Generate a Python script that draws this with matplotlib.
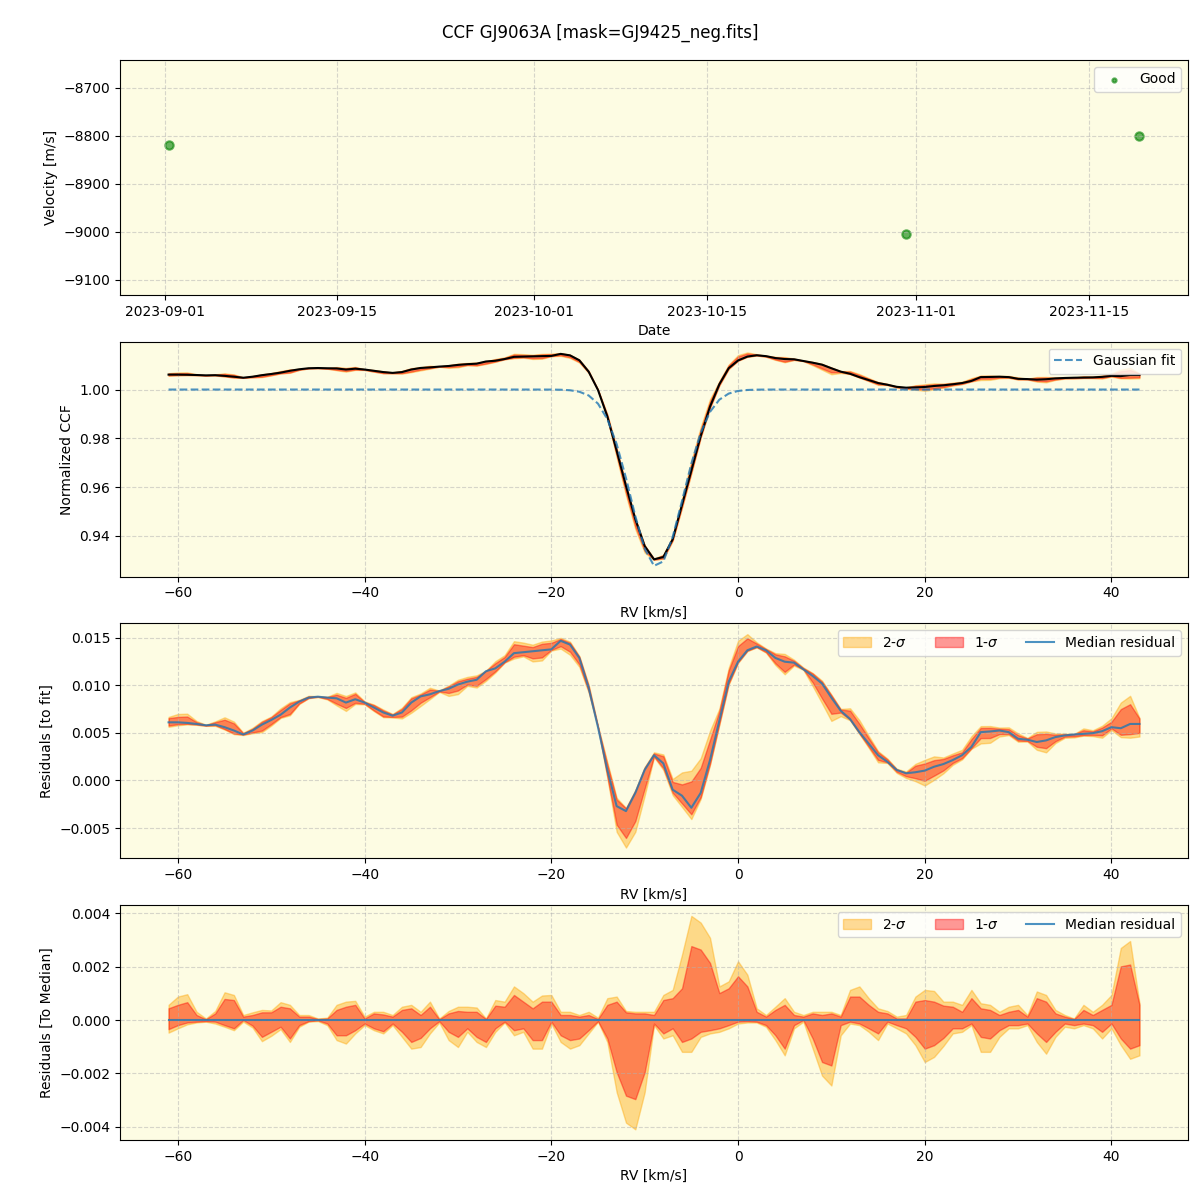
import numpy as np
import pandas as pd
import matplotlib
matplotlib.use("Agg")
import matplotlib.pyplot as plt
import matplotlib.dates as mdates

# --- RV time series (top panel)
obs_dates = pd.to_datetime(["2023-09-01 07:00", "2023-10-31 05:00", "2023-11-19 03:00"])
obs_vel = [-8820, -9004, -8800]

# --- CCF grid, km/s
rv = np.arange(-61, 44, 1.0)

# gaussian fit parameters
fit_cont = 1.0
fit_depth = 0.0727
fit_center = -8.7
fit_sigma = 2.8

# median residual to the fit
med_resid = np.array([
    0.00612, 0.00612, 0.00606, 0.00595, 0.00581, 0.00588, 0.00561, 0.00526, 0.00484, 0.00526,
    0.00588, 0.00637, 0.00692, 0.00768, 0.00830, 0.00872, 0.00882, 0.00872, 0.00865, 0.00820,
    0.00855, 0.00820, 0.00768, 0.00716, 0.00682, 0.00716, 0.00820, 0.00885, 0.00907, 0.00941,
    0.00965, 0.01010, 0.01040, 0.01060, 0.01150, 0.01180, 0.01250, 0.01340, 0.01350, 0.01360,
    0.01370, 0.01380, 0.01470, 0.01430, 0.01290, 0.00976, 0.00561, 0.00111, -0.00270, -0.00322,
    -0.00131, 0.00111, 0.00266, 0.00180, -0.00097, -0.00160, -0.00287, -0.00131, 0.00215, 0.00630,
    0.01040, 0.01250, 0.01370, 0.01410, 0.01370, 0.01290, 0.01250, 0.01240, 0.01170, 0.01100,
    0.01020, 0.00872, 0.00734, 0.00647, 0.00509, 0.00388, 0.00266, 0.00197, 0.00111, 0.00076,
    0.00087, 0.00104, 0.00145, 0.00173, 0.00215, 0.00266, 0.00353, 0.00509, 0.00516, 0.00526,
    0.00509, 0.00439, 0.00429, 0.00405, 0.00422, 0.00457, 0.00474, 0.00484, 0.00491, 0.00498,
    0.00519, 0.00561, 0.00550, 0.00595, 0.00595,
])

# percentile offsets around the median (units of 1e-3)
hi2 = np.array([
    0.57, 0.88, 0.97, 0.31, 0.06, 0.34, 1.04, 0.94, 0.19, 0.29,
    0.38, 0.36, 0.67, 0.57, 0.19, 0.19, 0.06, 0.09, 0.57, 0.69,
    0.72, 0.13, 0.31, 0.31, 0.19, 0.50, 0.57, 0.31, 0.69, 0.06,
    0.34, 0.50, 0.50, 0.47, 0.06, 0.75, 0.69, 1.26, 1.01, 0.69,
    0.92, 0.94, 0.31, 0.31, 0.19, 0.31, 0.09, 0.82, 0.88, 0.34,
    0.31, 0.31, 0.31, 0.94, 1.13, 2.45, 3.90, 3.65, 3.08, 1.26,
    1.45, 2.20, 1.70, 0.44, 0.19, 0.50, 0.82, 0.31, 0.19, 0.31,
    0.31, 0.31, 0.19, 1.13, 1.26, 0.82, 0.44, 0.34, 0.13, 0.19,
    0.88, 1.13, 1.09, 0.69, 0.69, 0.57, 1.13, 0.63, 0.57, 0.31,
    0.50, 0.57, 0.19, 1.07, 0.94, 0.38, 0.19, 0.06, 0.57, 0.31,
    0.57, 0.94, 2.70, 2.96, 0.63,
]) * 1e-3
hi1 = np.array([
    0.44, 0.57, 0.67, 0.19, 0.03, 0.25, 0.79, 0.75, 0.13, 0.19,
    0.29, 0.29, 0.50, 0.44, 0.13, 0.13, 0.04, 0.06, 0.38, 0.50,
    0.57, 0.06, 0.25, 0.21, 0.13, 0.38, 0.44, 0.19, 0.50, 0.03,
    0.25, 0.34, 0.31, 0.31, 0.04, 0.54, 0.50, 0.94, 0.69, 0.44,
    0.69, 0.69, 0.19, 0.19, 0.13, 0.19, 0.04, 0.57, 0.69, 0.29,
    0.25, 0.25, 0.19, 0.75, 0.82, 1.19, 2.77, 2.64, 2.14, 1.01,
    1.19, 1.64, 1.26, 0.31, 0.13, 0.38, 0.57, 0.19, 0.13, 0.25,
    0.19, 0.25, 0.13, 0.88, 0.88, 0.57, 0.31, 0.25, 0.06, 0.06,
    0.69, 0.75, 0.69, 0.54, 0.50, 0.31, 0.82, 0.44, 0.38, 0.19,
    0.31, 0.38, 0.13, 0.82, 0.69, 0.25, 0.13, 0.04, 0.38, 0.19,
    0.38, 0.57, 2.01, 2.08, 0.57,
]) * 1e-3
lo1 = -np.array([
    0.34, 0.19, 0.09, 0.06, 0.04, 0.06, 0.19, 0.31, 0.00, 0.21,
    0.63, 0.44, 0.25, 0.69, 0.19, 0.04, 0.01, 0.13, 0.57, 0.57,
    0.38, 0.13, 0.31, 0.42, 0.13, 0.44, 0.82, 0.67, 0.31, 0.04,
    0.44, 0.63, 0.31, 0.63, 0.82, 0.31, 0.06, 0.38, 0.31, 0.75,
    0.75, 0.06, 0.57, 0.75, 0.69, 0.38, 0.04, 0.69, 1.95, 2.83,
    2.96, 1.95, 0.13, 0.50, 0.31, 0.82, 0.69, 0.44, 0.38, 0.31,
    0.19, 0.06, 0.04, 0.06, 0.19, 0.57, 1.07, 0.19, 0.00, 0.69,
    1.57, 1.70, 0.19, 0.06, 0.13, 0.31, 0.50, 0.06, 0.19, 0.31,
    0.63, 1.07, 0.94, 0.67, 0.31, 0.31, 0.13, 0.63, 0.69, 0.38,
    0.19, 0.19, 0.13, 0.50, 0.82, 0.44, 0.13, 0.19, 0.13, 0.19,
    0.44, 0.13, 0.69, 1.07, 0.94,
]) * 1e-3
lo2 = -np.array([
    0.47, 0.31, 0.16, 0.09, 0.06, 0.13, 0.25, 0.38, 0.06, 0.28,
    0.79, 0.59, 0.34, 0.82, 0.25, 0.06, 0.04, 0.19, 0.75, 0.88,
    0.50, 0.19, 0.38, 0.50, 0.19, 0.63, 1.07, 1.01, 0.50, 0.09,
    0.75, 1.01, 0.44, 0.82, 1.01, 0.44, 0.09, 0.57, 0.44, 1.07,
    1.07, 0.13, 0.82, 1.07, 0.94, 0.50, 0.06, 0.82, 2.70, 3.84,
    4.09, 2.70, 0.19, 0.69, 0.57, 1.19, 1.19, 0.63, 0.50, 0.44,
    0.31, 0.13, 0.09, 0.09, 0.25, 0.75, 1.32, 0.31, 0.06, 1.07,
    2.08, 2.45, 0.57, 0.13, 0.19, 0.44, 0.75, 0.13, 0.31, 0.50,
    0.94, 1.57, 1.38, 0.97, 0.50, 0.44, 0.19, 1.19, 1.19, 0.63,
    0.31, 0.31, 0.19, 0.82, 1.26, 0.63, 0.25, 0.31, 0.19, 0.31,
    0.69, 0.31, 0.94, 1.45, 1.32,
]) * 1e-3

gauss_fit = fit_cont - fit_depth * np.exp(-0.5 * ((rv - fit_center) / fit_sigma) ** 2)
ccf_med = gauss_fit + med_resid

bg = "#fdfce3"
fig, axes = plt.subplots(4, 1, figsize=(12, 12))
plt.subplots_adjust(left=0.1, right=0.99, top=0.95, bottom=0.05, hspace=0.2)
fig.suptitle("CCF GJ9063A [mask=GJ9425_neg.fits]", y=0.98, fontsize=12)

for ax in axes:
    ax.set_facecolor(bg)
    ax.grid(True, linestyle="--", alpha=0.5)

# top: velocities
ax = axes[0]
ax.scatter(obs_dates, obs_vel, s=36, color="green", alpha=0.6, linewidths=1.5, label="Good")
ax.set_ylim(-9131, -8642)
ax.xaxis.set_major_locator(mdates.DayLocator(bymonthday=[1, 15]))
ax.xaxis.set_major_formatter(mdates.DateFormatter("%Y-%m-%d"))
ax.set_xlabel("Date")
ax.set_ylabel("Velocity [m/s]")
ax.legend(loc="upper right", markerscale=0.5)

# CCF profile
ax = axes[1]
ax.fill_between(rv, ccf_med + lo2, ccf_med + hi2, color="orange", alpha=0.4)
ax.fill_between(rv, ccf_med + lo1, ccf_med + hi1, color="red", alpha=0.4)
ax.plot(rv, ccf_med, color="black", lw=1.5)
ax.plot(rv, gauss_fit, "--", color="C0", lw=1.5, alpha=0.8, label="Gaussian fit")
ax.set_xlabel("RV [km/s]")
ax.set_ylabel("Normalized CCF")
ax.legend(loc="upper right")

# residuals to the fit
ax = axes[2]
ax.fill_between(rv, med_resid + lo2, med_resid + hi2, color="orange", alpha=0.4, label="2-$\\sigma$")
ax.fill_between(rv, med_resid + lo1, med_resid + hi1, color="red", alpha=0.4, label="1-$\\sigma$")
ax.plot(rv, med_resid, color="C0", lw=1.5, alpha=0.8, label="Median residual")
ax.set_xlabel("RV [km/s]")
ax.set_ylabel("Residuals [to fit]")
ax.legend(loc="upper right", ncol=3)

# residuals to the median
ax = axes[3]
ax.fill_between(rv, lo2, hi2, color="orange", alpha=0.4, label="2-$\\sigma$")
ax.fill_between(rv, lo1, hi1, color="red", alpha=0.4, label="1-$\\sigma$")
ax.plot(rv, med_resid - med_resid, color="C0", lw=1.5, alpha=0.8, label="Median residual")
ax.set_xlabel("RV [km/s]")
ax.set_ylabel("Residuals [To Median]")
ax.legend(loc="upper right", ncol=3)

fig.savefig("out.png", dpi=100)
